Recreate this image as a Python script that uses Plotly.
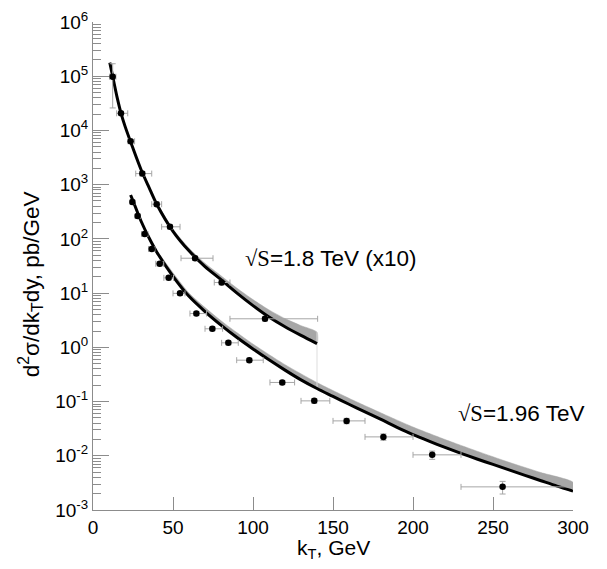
import plotly.graph_objects as go

# ---------------- data ----------------
# theory curves, sqrt(s)=1.8 TeV (x10) and 1.96 TeV; log10 of the cross section
TH18_X = [10.5, 12.5, 15, 17.5, 20, 25, 30, 35, 40, 50, 60, 70, 80, 90, 100,
          110, 120, 130, 140]
TH18_LOG = [5.25, 4.97, 4.62, 4.32, 4.08, 3.67, 3.28, 2.95, 2.63, 2.14, 1.78,
            1.49, 1.25, 1.00, 0.77, 0.56, 0.38, 0.22, 0.07]
BAND18_X = [40, 50, 60, 70, 80, 90, 100, 110, 120, 130, 140]
BAND18_HI = [2.66, 2.18, 1.83, 1.55, 1.32, 1.09, 0.88, 0.69, 0.53, 0.40, 0.28]

TH196_X = [23.5, 25, 30, 35, 40, 50, 60, 70, 80, 90, 100, 110, 120, 130, 140,
           150, 160, 170, 180, 190, 200, 210, 220, 230, 240, 250, 260, 270,
           280, 290, 300]
TH196_LOG = [2.81, 2.70, 2.33, 2.02, 1.75, 1.31, 0.94, 0.66, 0.41, 0.18, -0.03,
             -0.23, -0.42, -0.60, -0.76, -0.905, -1.05, -1.19, -1.33, -1.475,
             -1.61, -1.73, -1.845, -1.955, -2.06, -2.16, -2.26, -2.36, -2.46,
             -2.56, -2.65]
BAND196_X = [40, 60, 80, 100, 120, 140, 160, 180, 200, 220, 240, 260, 280, 300]
BAND196_HI = [1.78, 1.00, 0.49, 0.06, -0.32, -0.65, -0.94, -1.21, -1.47,
              -1.70, -1.915, -2.12, -2.31, -2.49]

# data points
D18_X = [12.3, 17.5, 23.5, 30.8, 39.8, 48.1, 63.8, 80.4, 107.5]
D18_Y = [9.8e4, 2.07e4, 6.3e3, 1.6e3, 437, 167, 44, 15.7, 3.36]
D18_YERR = [72000, 1500, 500, 150, 40, 15, 4, 1.5, 0.3]
D18_XM = [2.0, 2.7, 1.5, 4.1, 3.1, 5.2, 8.8, 4.6, 21.9]
D18_XP = [2.0, 4.2, 2.5, 5.9, 3.1, 6.3, 11.2, 5.2, 32.9]

D196_X = [24.6, 27.9, 32.3, 36.7, 41.7, 47.3, 54.4, 64.6, 74.6, 84.6, 97.7,
          118.3, 138.3, 158.5, 181.5, 212, 256]
D196_Y = [480, 263, 123, 65, 34.8, 19.1, 9.9, 4.2, 2.2, 1.21, 0.58, 0.225,
          0.103, 0.044, 0.0223, 0.0104, 0.00267]
D196_YERR = [40, 20, 10, 5, 3, 1.6, 0.8, 0.35, 0.18, 0.1, 0.05, 0.02, 0.01,
             0.005, 0.003, 0.0018, 0.0007]
D196_XM = [1.2, 1.5, 2, 2, 2.5, 3, 4.4, 4, 4.6, 4.2, 7.9, 7.7, 8.3, 8.5, 11.5,
           12, 26]
D196_XP = [1.2, 1.5, 2, 2, 2.5, 3, 3.1, 6.4, 6.4, 6.2, 8.7, 7.7, 9.7, 11.5,
           18.5, 18, 44]

Y_TICKS = [-3, -2, -1, 0, 1, 2, 3, 4, 5, 6]
X_TICKS = [0, 50, 100, 150, 200, 250, 300]

FONT = "Liberation Sans, Arial, sans-serif"
GREY = "#a6a6a6"
AXIS = "#8c8c8c"


def pw(v):
    return [10 ** a for a in v]


def band(xs, hi, cx, clog):
    lo = [clog[cx.index(x)] for x in xs]
    return xs + xs[::-1], pw(hi) + pw(lo[::-1])


fig = go.Figure()

for bx, bh, cx, cl in [(BAND18_X, BAND18_HI, TH18_X, TH18_LOG),
                       (BAND196_X, BAND196_HI, TH196_X, TH196_LOG)]:
    px_, py_ = band(bx, bh, cx, cl)
    fig.add_trace(go.Scatter(x=px_, y=py_, fill="toself", mode="lines",
                             line=dict(width=0.5, color=GREY, shape="spline",
                                       smoothing=0.6),
                             fillcolor=GREY, hoverinfo="skip"))

# thin edge of the 1.8 TeV band down to the lower curve
fig.add_trace(go.Scatter(x=[BAND18_X[-1], BAND18_X[-1]],
                         y=[10 ** BAND18_HI[-1], 10 ** TH196_LOG[TH196_X.index(140)]],
                         mode="lines", line=dict(width=1, color="#dddddd"),
                         hoverinfo="skip"))

for cx, cl in [(TH18_X, TH18_LOG), (TH196_X, TH196_LOG)]:
    fig.add_trace(go.Scatter(x=cx, y=pw(cl), mode="lines",
                             line=dict(color="black", width=3, shape="spline",
                                       smoothing=0.8)))

for x, y, ye, xm, xp in [(D18_X, D18_Y, D18_YERR, D18_XM, D18_XP),
                         (D196_X, D196_Y, D196_YERR, D196_XM, D196_XP)]:
    fig.add_trace(go.Scatter(
        x=x, y=y, mode="markers",
        marker=dict(color="black", size=6.5),
        error_y=dict(type="data", array=ye, color=GREY, thickness=1, width=3),
        error_x=dict(type="data", array=xp, arrayminus=xm, symmetric=False,
                     color=GREY, thickness=1, width=3)))

minor_vals = [m * 10 ** e for e in range(-3, 6) for m in range(2, 10)]

# page body adds an 8px offset, so margins are shifted to compensate
fig.update_layout(
    width=607, height=569, showlegend=False,
    plot_bgcolor="white", paper_bgcolor="white",
    margin=dict(l=85, r=42, t=14, b=67, autoexpand=False),
    font=dict(family=FONT, size=19, color="black"),
    xaxis=dict(range=[0, 300], tickvals=X_TICKS, ticks="inside", ticklen=13,
               tickcolor=AXIS, showline=True, linecolor=AXIS, linewidth=1,
               showgrid=False, zeroline=False, tickfont=dict(size=19),
               automargin=False),
    yaxis=dict(type="log", range=[-3, 6], tickvals=pw(Y_TICKS),
               ticktext=[f"10<sup>{e}</sup>" for e in Y_TICKS],
               ticks="inside", ticklen=16, tickcolor=AXIS, showline=True,
               linecolor=AXIS, linewidth=1, showgrid=False, zeroline=False,
               tickfont=dict(size=19), automargin=False,
               minor=dict(tickvals=minor_vals, ticks="inside", ticklen=8,
                          tickcolor=AXIS, showgrid=False)),
    annotations=[
        dict(text="d<sup>2</sup>σ/dk<sub>T</sub>dy, pb/GeV", xref="paper",
             yref="paper", x=-0.131, y=0.463, textangle=-90, showarrow=False,
             font=dict(size=22.5), xanchor="center", yanchor="middle"),
        dict(text="k<sub>T</sub>, GeV", xref="paper", yref="paper", x=0.5,
             y=-0.08, showarrow=False, font=dict(size=21),
             xanchor="center", yanchor="middle"),
        dict(text="<span style='font-family:Liberation Serif'>√S</span>=1.8 TeV (x10)",
             x=93.5, y=1.646, xanchor="left", yanchor="middle",
             showarrow=False, font=dict(size=22.5)),
        dict(text="<span style='font-family:Liberation Serif'>√S</span>=1.96 TeV",
             x=227, y=-1.22, xanchor="left", yanchor="middle",
             showarrow=False, font=dict(size=22.5)),
    ],
)

fig.write_html("out.html")
